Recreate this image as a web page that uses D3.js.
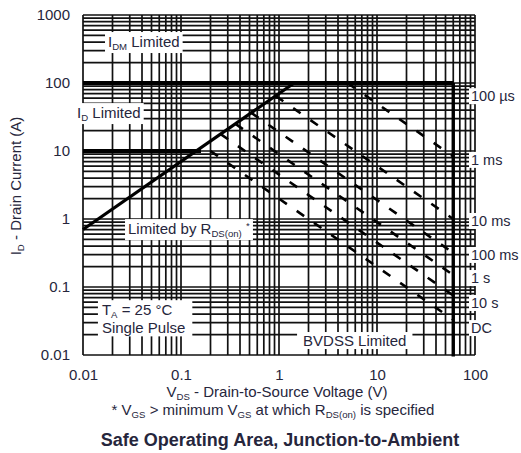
<!DOCTYPE html>
<html><head><meta charset="utf-8">
<script src="https://cdn.jsdelivr.net/npm/d3@7"></script>
<style>
body{margin:0;background:#fff}
svg{display:block}
text{font-family:"Liberation Sans",Arial,sans-serif;fill:#26263c}
</style>
</head><body><svg id="c" width="521" height="453"></svg>
<script>
// ---------- data ----------
const xTicks = [0.01, 0.1, 1, 10, 100];
const xLabels = ["0.01", "0.1", "1", "10", "100"];
const yTicks = [0.01, 0.1, 1, 10, 100, 1000];
const yLabels = ["0.01", "0.1", "1", "10", "100", "1000"];
const idmLimit = [[0.01, 100], [60, 100]];          // I_DM limited (also 100 µs)
const idLimit = [[0.01, 10], [0.16, 10]];           // I_D limited
const rdsOnLine = [[0.01, 0.7], [1.43, 100]];       // limited by R_DS(on)
const bvdssLine = [[60, 100], [60, 0.0095]];        // BVDSS limited
const pulseNames = ["1 ms", "10 ms", "100 ms", "1 s", "10 s", "DC"];
const pulseStart = [[5.0, 100], [0.93, 64], [0.52, 36.5], [0.36, 25], [0.254, 17.7], [0.2, 10]];
const pulseEnd = [[60, 8.3], [60, 1.0], [60, 0.317], [60, 0.15], [60, 0.075], [60, 0.033]];
const rightLabels = ["100 µs", "1 ms", "10 ms", "100 ms", "1 s", "10 s", "DC"];
const rightLabelAt = [64, 7.4, 0.935, 0.296, 0.1355, 0.0582, 0.0249];

// ---------- layout ----------
const svg = d3.select("#c");
const x = d3.scaleLog().domain([0.01, 100]).range([83, 475]);
const y = d3.scaleLog().domain([0.01, 1000]).range([355, 15]);
const FS = 15;

// grid
const g = svg.append("g");
g.selectAll("line.v").data(x.ticks()).join("line").attr("class", "v")
  .attr("x1", d => x(d)).attr("x2", d => x(d)).attr("y1", y(1000)).attr("y2", y(0.01))
  .attr("stroke", "#111").attr("stroke-width", 1.7);
g.selectAll("line.h").data(y.ticks()).join("line").attr("class", "h")
  .attr("y1", d => y(d)).attr("y2", d => y(d)).attr("x1", x(0.01)).attr("x2", x(100))
  .attr("stroke", "#111").attr("stroke-width", 1.7);

const boxLayer = svg.append("g");
const markLayer = svg.append("g");
const textLayer = svg.append("g");

function addText(px, py, parts, opts = {}) {
  const size = opts.size || FS;
  const t = textLayer.append("text").attr("x", px).attr("y", py)
    .attr("font-size", size).attr("text-anchor", opts.anchor || "start");
  if (opts.weight) t.attr("font-weight", opts.weight);
  let shift = 0;
  parts.forEach(p => {
    const s = t.append("tspan").text(p.t);
    const target = p.sub ? 3 : (p.sup ? -5 : 0);
    if (p.sub || p.sup) s.attr("font-size", size * 0.64);
    if (target !== shift) { s.attr("dy", target - shift); shift = target; }
  });
  return t;
}
function boxFor(t, padX, padY, extra = {}) {
  const b = t.node().getBBox();
  const x0 = extra.x0 !== undefined ? extra.x0 : b.x - padX;
  const x1 = extra.x1 !== undefined ? extra.x1 : b.x + b.width + padX;
  boxLayer.append("rect").attr("x", x0).attr("y", b.y - padY)
    .attr("width", x1 - x0).attr("height", b.height + 2 * padY).attr("fill", "#fff");
}

// in-plot labels
boxFor(addText(x(0.018), y(338), [{t: "I"}, {t: "DM", sub: true}, {t: " Limited"}]), 3, 1);
boxFor(addText(x(0.0087), y(30.5), [{t: "I"}, {t: "D", sub: true}, {t: " Limited"}]), 3, 1);
boxFor(addText(x(0.0288), y(0.60), [{t: "Limited by R"}, {t: "DS(on)", sub: true}, {t: " "}, {t: "*", sup: true}]), 3, 1);
{
  const t1 = addText(x(0.0156), y(0.0385), [{t: "T"}, {t: "A", sub: true}, {t: " = 25 °C"}]);
  const t2 = addText(x(0.0156), y(0.0208), [{t: "Single Pulse"}]);
  const b1 = t1.node().getBBox(), b2 = t2.node().getBBox();
  const x0 = Math.min(b1.x, b2.x) - 4, x1 = Math.max(b1.x + b1.width, b2.x + b2.width) + 7;
  boxLayer.append("rect").attr("x", x0).attr("y", b1.y - 1).attr("width", x1 - x0)
    .attr("height", b2.y + b2.height - b1.y + 1).attr("fill", "#fff");
}
boxFor(addText(x(1.76), y(0.01355), [{t: "BVDSS Limited"}]), 6, 0);

// right labels
rightLabels.forEach((lab, i) => {
  const t = addText(471, y(rightLabelAt[i]) + 5, [{t: lab}], {size: 14.5});
  boxFor(t, 0, 0, {x0: 469, x1: 521});
});

// limit lines
const line = d3.line().x(d => x(d[0])).y(d => y(d[1]));
markLayer.append("path").attr("d", line(idmLimit)).attr("stroke", "#000").attr("stroke-width", 4).attr("fill", "none");
markLayer.append("path").attr("d", line(idLimit)).attr("stroke", "#000").attr("stroke-width", 4).attr("fill", "none");
markLayer.append("path").attr("d", line(rdsOnLine)).attr("stroke", "#000").attr("stroke-width", 3.2).attr("fill", "none");
markLayer.append("path").attr("d", line(bvdssLine)).attr("stroke", "#000").attr("stroke-width", 3.4).attr("fill", "none");

// pulse curves (dashed)
pulseNames.forEach((n, i) => {
  markLayer.append("path").attr("d", line([pulseStart[i], pulseEnd[i]]))
    .attr("stroke", "#000").attr("stroke-width", 2.6).attr("fill", "none")
    .attr("stroke-dasharray", "9,12");
});

// axes
const ax = svg.append("g").attr("transform", `translate(0,${y(0.01)})`)
  .call(d3.axisBottom(x).tickValues(xTicks).tickFormat((d, i) => xLabels[i]).tickSize(0).tickPadding(14));
const ay = svg.append("g").attr("transform", `translate(${x(0.01)},0)`)
  .call(d3.axisLeft(y).tickValues(yTicks).tickFormat((d, i) => yLabels[i]).tickSize(0).tickPadding(13));
[ax, ay].forEach(a => {
  a.select(".domain").remove();
  a.selectAll("text").attr("font-size", FS).attr("fill", "#26263c")
    .attr("font-family", "Liberation Sans, Arial, sans-serif");
});

// axis titles
addText(277, 397, [{t: "V"}, {t: "DS", sub: true}, {t: " - Drain-to-Source Voltage (V)"}], {anchor: "middle"});
addText(273, 415, [{t: "* V"}, {t: "GS", sub: true}, {t: " > minimum V"}, {t: "GS", sub: true}, {t: " at which R"}, {t: "DS(on)", sub: true}, {t: " is specified"}], {anchor: "middle"});
addText(280, 446, [{t: "Safe Operating Area, Junction-to-Ambient"}], {anchor: "middle", size: 18, weight: "bold"});
{
  const t = addText(0, 0, [{t: "I"}, {t: "D", sub: true}, {t: " - Drain Current (A)"}], {anchor: "middle"});
  t.attr("transform", "translate(21,186) rotate(-90)");
}
</script>
</body></html>
